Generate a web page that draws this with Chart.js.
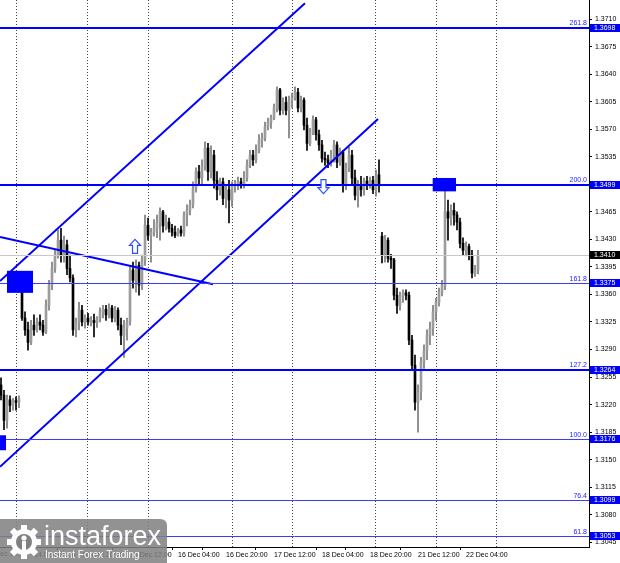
<!DOCTYPE html>
<html>
<head>
<meta charset="utf-8">
<script src="https://cdn.jsdelivr.net/npm/chart.js@4.4.0/dist/chart.umd.min.js"></script>
<style>
  html, body { margin: 0; padding: 0; background: #fff; }
  #wrap { width: 620px; height: 563px; }
</style>
</head>
<body>
<div id="wrap"><canvas id="chart" width="620" height="563"></canvas></div>
<script>
// GBP/USD H1, 11 Dec - 22 Dec (bar index 0 = 11 Dec 17:00)
const opens = [
  1.3245, 1.3232, 1.3200, 1.3226, 1.3219, 1.3225, 1.3223, 1.3371,
  1.3330, 1.3315, 1.3299, 1.3321, 1.3315, 1.3325, 1.3321, 1.3312,
  1.3346, 1.3372, 1.3393, 1.3410, 1.3429, 1.3410, 1.3423, 1.3393,
  1.3381, 1.3315, 1.3325, 1.3340, 1.3325, 1.3330, 1.3325, 1.3327,
  1.3324, 1.3330, 1.3338, 1.3341, 1.3334, 1.3343, 1.3330, 1.3340,
  1.3321, 1.3308, 1.3317, 1.3325, 1.3391, 1.3378, 1.3397, 1.3372,
  1.3404, 1.3448, 1.3435, 1.3439, 1.3444, 1.3452, 1.3465, 1.3447,
  1.3452, 1.3444, 1.3439, 1.3435, 1.3442, 1.3438, 1.3461, 1.3467,
  1.3474, 1.3495, 1.3516, 1.3508, 1.3523, 1.3546, 1.3516, 1.3537,
  1.3505, 1.3493, 1.3503, 1.3482, 1.3493, 1.3480, 1.3498, 1.3500,
  1.3503, 1.3499, 1.3508, 1.3524, 1.3537, 1.3531, 1.3543, 1.3556,
  1.3559, 1.3573, 1.3579, 1.3584, 1.3597, 1.3620, 1.3594, 1.3604,
  1.3594, 1.3607, 1.3610, 1.3617, 1.3597, 1.3607, 1.3575, 1.3552,
  1.3566, 1.3582, 1.3563, 1.3550, 1.3533, 1.3531, 1.3527, 1.3537,
  1.3550, 1.3528, 1.3541, 1.3499, 1.3521, 1.3537, 1.3508, 1.3486,
  1.3499, 1.3493, 1.3504, 1.3500, 1.3505, 1.3493, 1.3512, 1.3434,
  1.3410, 1.3429, 1.3406, 1.3404, 1.3359, 1.3346, 1.3358, 1.3362,
  1.3359, 1.3302, 1.3270, 1.3223, 1.3236, 1.3274, 1.3289, 1.3308,
  1.3317, 1.3338, 1.3350, 1.3363, 1.3371, 1.3465, 1.3457, 1.3467,
  1.3461, 1.3452, 1.3425, 1.3416, 1.3421, 1.3410, 1.3387, 1.3391
];
const highs = [
  1.3254, 1.3238, 1.3232, 1.3231, 1.3228, 1.3230, 1.3231, 1.3388,
  1.3338, 1.3325, 1.3327, 1.3334, 1.3330, 1.3334, 1.3327, 1.3353,
  1.3378, 1.3401, 1.3416, 1.3442, 1.3444, 1.3434, 1.3429, 1.3410,
  1.3385, 1.3330, 1.3350, 1.3346, 1.3334, 1.3336, 1.3332, 1.3335,
  1.3332, 1.3343, 1.3346, 1.3346, 1.3348, 1.3346, 1.3345, 1.3343,
  1.3330, 1.3327, 1.3330, 1.3397, 1.3401, 1.3404, 1.3401, 1.3410,
  1.3461, 1.3457, 1.3444, 1.3455, 1.3461, 1.3470, 1.3467, 1.3461,
  1.3457, 1.3449, 1.3447, 1.3444, 1.3447, 1.3465, 1.3474, 1.3480,
  1.3503, 1.3521, 1.3524, 1.3531, 1.3554, 1.3552, 1.3549, 1.3543,
  1.3516, 1.3508, 1.3508, 1.3499, 1.3505, 1.3503, 1.3505, 1.3509,
  1.3508, 1.3516, 1.3531, 1.3543, 1.3543, 1.3550, 1.3563, 1.3565,
  1.3579, 1.3584, 1.3588, 1.3602, 1.3624, 1.3622, 1.3610, 1.3611,
  1.3612, 1.3616, 1.3624, 1.3622, 1.3612, 1.3610, 1.3584, 1.3571,
  1.3587, 1.3585, 1.3569, 1.3556, 1.3541, 1.3537, 1.3543, 1.3556,
  1.3554, 1.3546, 1.3543, 1.3527, 1.3547, 1.3543, 1.3518, 1.3505,
  1.3510, 1.3508, 1.3510, 1.3509, 1.3510, 1.3518, 1.3531, 1.3439,
  1.3435, 1.3432, 1.3411, 1.3406, 1.3368, 1.3363, 1.3366, 1.3366,
  1.3363, 1.3308, 1.3283, 1.3245, 1.3280, 1.3296, 1.3315, 1.3325,
  1.3346, 1.3355, 1.3368, 1.3378, 1.3498, 1.3480, 1.3474, 1.3476,
  1.3465, 1.3457, 1.3432, 1.3427, 1.3424, 1.3416, 1.3397, 1.3416
];
const lows = [
  1.3226, 1.3188, 1.3190, 1.3211, 1.3213, 1.3213, 1.3216, 1.3327,
  1.3308, 1.3289, 1.3296, 1.3308, 1.3312, 1.3315, 1.3308, 1.3310,
  1.3340, 1.3366, 1.3388, 1.3406, 1.3401, 1.3401, 1.3385, 1.3376,
  1.3308, 1.3306, 1.3315, 1.3320, 1.3317, 1.3321, 1.3320, 1.3306,
  1.3318, 1.3325, 1.3330, 1.3327, 1.3330, 1.3325, 1.3325, 1.3315,
  1.3296, 1.3280, 1.3302, 1.3321, 1.3368, 1.3363, 1.3359, 1.3366,
  1.3397, 1.3429, 1.3401, 1.3434, 1.3432, 1.3429, 1.3439, 1.3442,
  1.3439, 1.3434, 1.3432, 1.3434, 1.3434, 1.3434, 1.3447, 1.3461,
  1.3470, 1.3490, 1.3499, 1.3500, 1.3518, 1.3505, 1.3508, 1.3495,
  1.3480, 1.3486, 1.3474, 1.3470, 1.3451, 1.3472, 1.3490, 1.3493,
  1.3495, 1.3495, 1.3504, 1.3521, 1.3524, 1.3527, 1.3540, 1.3547,
  1.3555, 1.3569, 1.3571, 1.3582, 1.3592, 1.3588, 1.3589, 1.3588,
  1.3559, 1.3597, 1.3607, 1.3592, 1.3592, 1.3569, 1.3543, 1.3549,
  1.3563, 1.3556, 1.3543, 1.3528, 1.3524, 1.3521, 1.3523, 1.3528,
  1.3521, 1.3524, 1.3490, 1.3493, 1.3516, 1.3499, 1.3480, 1.3471,
  1.3485, 1.3486, 1.3493, 1.3495, 1.3488, 1.3485, 1.3490, 1.3400,
  1.3401, 1.3401, 1.3393, 1.3353, 1.3336, 1.3340, 1.3350, 1.3353,
  1.3296, 1.3264, 1.3213, 1.3185, 1.3226, 1.3266, 1.3277, 1.3296,
  1.3308, 1.3327, 1.3345, 1.3358, 1.3366, 1.3429, 1.3448, 1.3448,
  1.3442, 1.3419, 1.3410, 1.3409, 1.3404, 1.3381, 1.3383, 1.3386
];
const closes = [
  1.3232, 1.3200, 1.3226, 1.3219, 1.3225, 1.3223, 1.3227, 1.3330,
  1.3315, 1.3299, 1.3321, 1.3315, 1.3325, 1.3321, 1.3312, 1.3346,
  1.3372, 1.3393, 1.3410, 1.3429, 1.3410, 1.3423, 1.3393, 1.3381,
  1.3315, 1.3325, 1.3340, 1.3325, 1.3330, 1.3325, 1.3327, 1.3324,
  1.3330, 1.3338, 1.3341, 1.3334, 1.3343, 1.3330, 1.3340, 1.3321,
  1.3308, 1.3317, 1.3325, 1.3391, 1.3378, 1.3397, 1.3372, 1.3404,
  1.3448, 1.3435, 1.3439, 1.3444, 1.3452, 1.3465, 1.3447, 1.3452,
  1.3444, 1.3439, 1.3435, 1.3442, 1.3438, 1.3461, 1.3467, 1.3474,
  1.3495, 1.3516, 1.3508, 1.3523, 1.3546, 1.3516, 1.3537, 1.3505,
  1.3493, 1.3503, 1.3482, 1.3493, 1.3480, 1.3498, 1.3500, 1.3503,
  1.3499, 1.3508, 1.3524, 1.3537, 1.3531, 1.3543, 1.3556, 1.3559,
  1.3573, 1.3579, 1.3584, 1.3597, 1.3620, 1.3594, 1.3604, 1.3594,
  1.3607, 1.3610, 1.3617, 1.3597, 1.3607, 1.3575, 1.3552, 1.3566,
  1.3582, 1.3563, 1.3550, 1.3533, 1.3531, 1.3527, 1.3537, 1.3550,
  1.3528, 1.3541, 1.3499, 1.3521, 1.3537, 1.3508, 1.3486, 1.3499,
  1.3493, 1.3504, 1.3500, 1.3505, 1.3493, 1.3512, 1.3499, 1.3410,
  1.3429, 1.3406, 1.3404, 1.3359, 1.3346, 1.3358, 1.3362, 1.3359,
  1.3302, 1.3270, 1.3223, 1.3236, 1.3274, 1.3289, 1.3308, 1.3317,
  1.3338, 1.3350, 1.3363, 1.3371, 1.3465, 1.3457, 1.3467, 1.3461,
  1.3452, 1.3425, 1.3416, 1.3421, 1.3410, 1.3387, 1.3391, 1.3410
];

// time axis: bars where a new day starts (dotted lines) and labelled bars
const dayBars = [7, 31, 55, 79, 103, 127, 151, 175];
const timeBars = [-5, 11, 27, 43, 59, 75, 91, 107, 123, 139, 155];
const timeLabels = ['11 Dec 12:00', '14 Dec 04:00', '14 Dec 20:00', '15 Dec 12:00', '16 Dec 04:00',
  '16 Dec 20:00', '17 Dec 12:00', '18 Dec 04:00', '18 Dec 20:00', '21 Dec 12:00', '22 Dec 04:00'];

const priceTicks = [1.3045, 1.3080, 1.3115, 1.3150, 1.3185, 1.3220, 1.3255, 1.3290, 1.3325, 1.3360,
  1.3395, 1.3430, 1.3465, 1.3500, 1.3535, 1.3570, 1.3605, 1.3640, 1.3675, 1.3710];

// fibo grid
const fibLevels = ['261.8', '200.0', '161.8', '127.2', '100.0', '76.4', '61.8'];
const fibPrices = [1.3698, 1.3499, 1.3375, 1.3264, 1.3176, 1.3099, 1.3053];
const lastPrice = 1.3410;

// trend lines [bar, price] pairs
const channelTop = [[-0.33, 1.3377], [101.33, 1.3730]];
const channelBottom = [[-0.33, 1.3141], [125.67, 1.3583]];
const fallingLine = [[-0.33, 1.3433], [70.67, 1.3373]];

// signal boxes: bar from, bar to, price top, price bottom
const boxFrom = [2.0, -0.33, 143.9];
const boxTo = [10.67, 1.67, 151.67];
const boxTop = [1.3390, 1.3181, 1.3508];
const boxBottom = [1.3362, 1.3162, 1.3491];

// arrows
const arrowBars = [44.67, 107.5];
const arrowPrices = [1.3421, 1.3497];
const arrowDirs = ['up', 'down'];

const BLUE = '#0000ff';
const thickLevels = ['261.8', '200.0', '127.2'];
const FONT = 'Liberation Sans';

const isBull = opens.map((o, i) => closes[i] >= o);
const wickData = opens.map((o, i) => ({ x: i, y: [lows[i], highs[i]] }));
const bodyData = opens.map((o, i) => ({ x: i, y: [o, closes[i]] }));

function lineData(pts) {
  return pts.map(p => ({ x: p[0], y: p[1] }));
}
function trendSet(pts) {
  return {
    type: 'line', data: lineData(pts), borderColor: BLUE, borderWidth: 2,
    pointRadius: 0, fill: false, order: 0
  };
}

function drawArrow(ctx, cx, cy, dir) {
  const w = 11, h = 14, shaft = 2.5, head = 6;
  const s = dir === 'up' ? 1 : -1;
  const tip = cy - s * h / 2, base = cy + s * h / 2, neck = tip + s * head;
  ctx.beginPath();
  ctx.moveTo(cx, tip);
  ctx.lineTo(cx + w / 2, neck);
  ctx.lineTo(cx + shaft, neck);
  ctx.lineTo(cx + shaft, base);
  ctx.lineTo(cx - shaft, base);
  ctx.lineTo(cx - shaft, neck);
  ctx.lineTo(cx - w / 2, neck);
  ctx.closePath();
  ctx.fillStyle = '#fff';
  ctx.fill();
  ctx.strokeStyle = '#2a4dff';
  ctx.lineWidth = 1.2;
  ctx.stroke();
}

function drawLogo(ctx) {
  ctx.save();
  ctx.fillStyle = 'rgba(128,128,128,0.86)';
  ctx.beginPath();
  ctx.moveTo(0, 519);
  ctx.lineTo(160, 519);
  ctx.quadraticCurveTo(167, 519, 167, 526);
  ctx.lineTo(167, 563);
  ctx.lineTo(0, 563);
  ctx.closePath();
  ctx.fill();

  // gear
  const cx = 24, cy = 542;
  ctx.fillStyle = '#fff';
  ctx.beginPath();
  ctx.arc(cx, cy, 13, 0, Math.PI * 2);
  ctx.fill();
  for (let k = 0; k < 8; k++) {
    ctx.save();
    ctx.translate(cx, cy);
    ctx.rotate(k * Math.PI / 4);
    ctx.fillRect(-3, -17, 6, 6);
    ctx.restore();
  }
  ctx.fillStyle = 'rgb(128,128,128)';
  ctx.beginPath();
  ctx.arc(cx, cy, 8, 0, Math.PI * 2);
  ctx.fill();
  ctx.fillStyle = '#fff';
  ctx.beginPath();
  ctx.arc(cx, cy - 4, 2.6, 0, Math.PI * 2);
  ctx.fill();
  ctx.fillRect(cx - 2, cy - 1, 4, 9);

  ctx.fillStyle = '#fff';
  ctx.textAlign = 'left';
  ctx.textBaseline = 'alphabetic';
  ctx.font = '27px "' + FONT + '"';
  ctx.fillText('instaforex', 44, 545);
  ctx.font = '10px "' + FONT + '"';
  ctx.fillText('Instant Forex Trading', 45, 558);
  ctx.restore();
}

const overlay = {
  id: 'overlay',
  afterDatasetsDraw(chart) {
    const { ctx, chartArea: a, scales: { x, y } } = chart;
    ctx.save();
    ctx.beginPath();
    ctx.rect(a.left, a.top, a.right - a.left, a.bottom - a.top);
    ctx.clip();

    // current price line
    const lp = Math.round(y.getPixelForValue(lastPrice)) + 0.5;
    ctx.strokeStyle = '#c8c8c8';
    ctx.lineWidth = 1;
    ctx.beginPath();
    ctx.moveTo(a.left, lp);
    ctx.lineTo(a.right, lp);
    ctx.stroke();

    // fibo levels
    fibPrices.forEach((p, k) => {
      const thick = thickLevels.includes(fibLevels[k]);
      const py = thick ? Math.round(y.getPixelForValue(p)) : Math.round(y.getPixelForValue(p)) + 0.5;
      ctx.strokeStyle = thick ? BLUE : '#3c3cff';
      ctx.lineWidth = thick ? 2 : 1;
      ctx.beginPath();
      ctx.moveTo(a.left, py);
      ctx.lineTo(a.right, py);
      ctx.stroke();
      ctx.fillStyle = '#2323ff';
      ctx.font = '7px "' + FONT + '"';
      ctx.textAlign = 'right';
      ctx.textBaseline = 'bottom';
      ctx.fillText(fibLevels[k], a.right - 2, py - 1);
    });

    // boxes
    ctx.fillStyle = BLUE;
    boxFrom.forEach((b, k) => {
      const x0 = x.getPixelForValue(b), x1 = x.getPixelForValue(boxTo[k]);
      const y0 = y.getPixelForValue(boxTop[k]), y1 = y.getPixelForValue(boxBottom[k]);
      ctx.fillRect(x0, y0, x1 - x0, y1 - y0);
    });

    // arrows
    arrowBars.forEach((b, k) => {
      drawArrow(ctx, x.getPixelForValue(b), y.getPixelForValue(arrowPrices[k]), arrowDirs[k]);
    });
    ctx.restore();
  },
  afterDraw(chart) {
    const { ctx, chartArea: a, scales: { x, y } } = chart;
    ctx.save();
    ctx.font = '7px "' + FONT + '"';
    ctx.textAlign = 'left';
    ctx.textBaseline = 'middle';
    const tag = (p, bg) => {
      const py = Math.round(y.getPixelForValue(p));
      ctx.fillStyle = bg;
      ctx.fillRect(a.right + 1, py - 4, chart.width - a.right - 1, 8);
      ctx.fillStyle = '#fff';
      ctx.fillText(p.toFixed(4), a.right + 5, py + 0.5);
    };
    fibPrices.forEach(p => tag(p, BLUE));
    tag(lastPrice, '#000');

    // time label left of the first bar
    ctx.fillStyle = '#000';
    ctx.textBaseline = 'top';
    timeBars.forEach((b, k) => {
      if (b < x.min) ctx.fillText(timeLabels[k], x.getPixelForValue(b), x.top + 4);
    });
    ctx.restore();
    drawLogo(ctx);
  }
};

const ctx = document.getElementById('chart').getContext('2d');
new Chart(ctx, {
  type: 'bar',
  data: {
    datasets: [
      trendSet(channelTop),
      trendSet(channelBottom),
      trendSet(fallingLine),
      {
        data: bodyData,
        backgroundColor: isBull.map(b => b ? '#9c9c9c' : '#000'),
        barThickness: 2, minBarLength: 1, grouped: false, order: 1
      },
      {
        data: wickData,
        backgroundColor: isBull.map(b => b ? '#7a7a7a' : '#000'),
        barThickness: 1, grouped: false, order: 2
      }
    ]
  },
  options: {
    responsive: false,
    animation: false,
    devicePixelRatio: 1,
    layout: { padding: 0 },
    plugins: { legend: { display: false }, tooltip: { enabled: false } },
    scales: {
      x: {
        type: 'linear',
        min: -1 / 3,
        max: 196,
        offset: false,
        afterBuildTicks: s => {
          s.ticks = dayBars.concat(timeBars.filter(v => v >= s.min))
            .sort((p, q) => p - q).map(v => ({ value: v }));
        },
        afterFit: s => {
          s.height = 16;
          s.paddingLeft = 0;
          s.paddingRight = 0;
        },
        ticks: {
          autoSkip: false, maxRotation: 0, minRotation: 0, align: 'start', padding: 1,
          color: '#000', font: { family: FONT, size: 7 },
          callback: v => {
            const k = timeBars.indexOf(v);
            return k >= 0 ? timeLabels[k] : '';
          }
        },
        grid: {
          color: c => (c.tick && dayBars.includes(c.tick.value)) ? '#444' : 'rgba(0,0,0,0)',
          tickColor: c => (c.tick && timeBars.includes(c.tick.value)) ? '#000' : 'rgba(0,0,0,0)',
          lineWidth: 1, tickLength: 3, borderDash: [1, 2]
        },
        border: { display: true, color: '#000', width: 1, dash: [1, 2] }
      },
      y: {
        position: 'right',
        min: 1.3039,
        max: 1.37342,
        afterBuildTicks: s => { s.ticks = priceTicks.map(v => ({ value: v })); },
        afterFit: s => {
          s.width = 31;
          s.paddingTop = 0;
          s.paddingBottom = 0;
        },
        ticks: {
          autoSkip: false, padding: 3, color: '#000',
          font: { family: FONT, size: 7 },
          callback: v => v.toFixed(4)
        },
        grid: { drawOnChartArea: false, tickLength: 3, tickColor: '#000' },
        border: { display: true, color: '#000', width: 1 }
      }
    }
  },
  plugins: [overlay]
});
</script>
</body>
</html>
